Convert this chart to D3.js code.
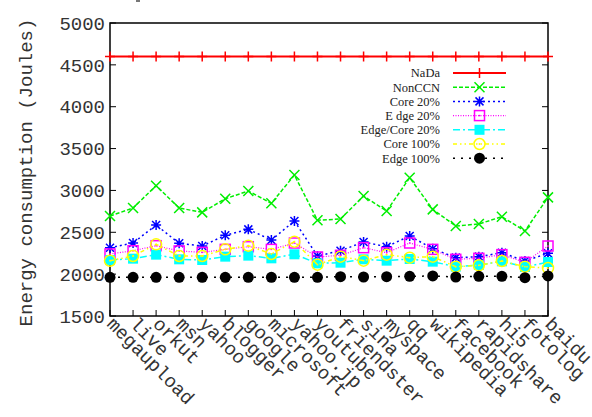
<!DOCTYPE html>
<html>
<head>
<meta charset="utf-8">
<script src="https://cdn.jsdelivr.net/npm/d3@7"></script>
<style>
  body { margin: 0; background: #fff; }
  svg { display: block; }
</style>
</head>
<body>
<svg width="592" height="417"></svg>
<script>
var sites = ["megaupload", "live", "orkut", "msn", "yahoo", "blogger", "google", "microsoft",
    "yahoo.jp", "youtube", "friendster", "sina", "myspace", "qq", "wikipedia", "facebook",
    "rapidshare", "hi5", "fotolog", "baidu"];

var yTicks = [1500, 2000, 2500, 3000, 3500, 4000, 4500, 5000];

var nada      = [4600, 4600, 4600, 4600, 4600, 4600, 4600, 4600, 4600, 4600,
                 4600, 4600, 4600, 4600, 4600, 4600, 4600, 4600, 4600, 4600];
var nonccn    = [2694, 2790, 3057, 2790, 2738, 2901, 2993, 2846, 3184, 2643,
                 2659, 2933, 2754, 3152, 2774, 2575, 2599, 2686, 2515, 2917];
var core20    = [2316, 2372, 2587, 2368, 2336, 2464, 2535, 2408, 2635, 2217,
                 2280, 2384, 2328, 2456, 2304, 2197, 2209, 2256, 2157, 2249];
var edge20    = [2241, 2280, 2340, 2277, 2260, 2296, 2328, 2296, 2372, 2205,
                 2225, 2316, 2256, 2372, 2296, 2177, 2189, 2233, 2141, 2336];
var edgecore20= [2169, 2185, 2233, 2177, 2169, 2209, 2221, 2189, 2237, 2129,
                 2137, 2177, 2161, 2181, 2149, 2089, 2109, 2153, 2085, 2145];
var core100   = [2160, 2217, 2356, 2217, 2217, 2296, 2340, 2241, 2388, 2113,
                 2209, 2161, 2233, 2197, 2209, 2089, 2105, 2157, 2089, 2073];
var edge100   = [1962, 1962, 1962, 1962, 1962, 1962, 1962, 1962, 1962, 1962,
                 1970, 1966, 1970, 1974, 1978, 1966, 1974, 1974, 1958, 1978];

// plot box (window.top is taken, so no "top" here)
var pLeft = 110, pRight = 548, pTop = 23, pBottom = 316;

var svg = d3.select("svg");

var x = d3.scalePoint().domain(sites).range([pLeft, pRight]);
var y = d3.scaleLinear().domain([1500, 5000]).range([pBottom, pTop]);

// marker shapes, drawn at 0,0
function markPlus(g, c) {
    g.append("path").attr("d", "M-5,0H5M0,-5V5").attr("stroke", c).attr("stroke-width", 1.5).attr("fill", "none");
}
function markCross(g, c) {
    g.append("path").attr("d", "M-5,-5L5,5M-5,5L5,-5").attr("stroke", c).attr("stroke-width", 1.5).attr("fill", "none");
}
function markStar(g, c) {
    g.append("path").attr("d", "M-5,0H5M0,-5V5M-4,-4L4,4M-4,4L4,-4").attr("stroke", c).attr("stroke-width", 1.5).attr("fill", "none");
}
function markBox(g, c) {
    g.append("rect").attr("x", -5).attr("y", -5).attr("width", 10).attr("height", 10)
        .attr("stroke", c).attr("stroke-width", 1.5).attr("fill", "none");
    g.append("rect").attr("x", -0.75).attr("y", -0.75).attr("width", 1.5).attr("height", 1.5).attr("fill", c);
}
function markFillBox(g, c) {
    g.append("rect").attr("x", -5).attr("y", -5).attr("width", 10).attr("height", 10).attr("fill", c);
}
function markCircle(g, c) {
    g.append("circle").attr("r", 5.5).attr("stroke", c).attr("stroke-width", 1.5).attr("fill", "none");
    g.append("circle").attr("r", 0.9).attr("fill", c);
}
function markDot(g, c) {
    g.append("circle").attr("r", 5.5).attr("fill", c);
}

var series = [
    {name: "NaDa", values: nada, color: "#ff0000", dash: null, width: 2, mark: markPlus},
    {name: "NonCCN", values: nonccn, color: "#00ee00", dash: "4,2", width: 1.5, mark: markCross},
    {name: "Core 20%", values: core20, color: "#0000ff", dash: "2,3", width: 1.5, mark: markStar},
    {name: "E dge 20%", values: edge20, color: "#ff00ff", dash: "1,1.5", width: 1.2, mark: markBox},
    {name: "Edge/Core 20%", values: edgecore20, color: "#00ffff", dash: "7,3,2,3", width: 1.5, mark: markFillBox},
    {name: "Core 100%", values: core100, color: "#ffff00", dash: "4,3,1.5,3,1.5,3", width: 1.5, mark: markCircle},
    {name: "Edge 100%", values: edge100, color: "#000000", dash: "2,6", width: 1.5, mark: markDot}
];

// frame
svg.append("rect")
    .attr("x", pLeft).attr("y", pTop)
    .attr("width", pRight - pLeft).attr("height", pBottom - pTop)
    .attr("fill", "none").attr("stroke", "#000").attr("stroke-width", 1.5);

// y ticks, both sides
yTicks.forEach(function(t) {
    svg.append("line").attr("x1", pLeft).attr("x2", pLeft + 6).attr("y1", y(t)).attr("y2", y(t))
        .attr("stroke", "#000").attr("stroke-width", 1);
    svg.append("line").attr("x1", pRight).attr("x2", pRight - 6).attr("y1", y(t)).attr("y2", y(t))
        .attr("stroke", "#000").attr("stroke-width", 1);
    svg.append("text")
        .attr("x", 105).attr("y", y(t))
        .attr("dy", "0.35em")
        .attr("text-anchor", "end")
        .attr("font-family", "Liberation Mono")
        .attr("font-size", 19)
        .attr("fill", "#333")
        .text(t);
});

// x ticks and rotated labels
sites.forEach(function(s) {
    svg.append("line").attr("x1", x(s)).attr("x2", x(s)).attr("y1", pBottom).attr("y2", pBottom - 6)
        .attr("stroke", "#000").attr("stroke-width", 1);
    svg.append("text")
        .attr("transform", "translate(" + (x(s) - 4) + "," + (pBottom + 9) + ") rotate(45)")
        .attr("text-anchor", "start")
        .attr("font-family", "Liberation Mono")
        .attr("font-size", 19)
        .attr("fill", "#333")
        .text(s);
});

// y axis title
svg.append("text")
    .attr("transform", "translate(32," + ((pTop + pBottom) / 2 + 3) + ") rotate(-90)")
    .attr("text-anchor", "middle")
    .attr("font-family", "Liberation Mono")
    .attr("font-size", 19)
    .attr("fill", "#333")
    .text("Energy consumption (Joules)");

var line = d3.line()
    .x(function(d, i) { return x(sites[i]); })
    .y(function(d) { return y(d); });

series.forEach(function(s) {
    svg.append("path")
        .datum(s.values)
        .attr("d", line)
        .attr("fill", "none")
        .attr("stroke", s.color)
        .attr("stroke-width", s.width)
        .attr("stroke-dasharray", s.dash);
    s.values.forEach(function(v, i) {
        var g = svg.append("g").attr("transform", "translate(" + x(sites[i]) + "," + y(v) + ")");
        s.mark(g, s.color);
    });
});

// legend
var legend = svg.append("g");
series.forEach(function(s, i) {
    var ly = 73 + i * 14.2;
    legend.append("text")
        .attr("x", 440).attr("y", ly)
        .attr("dy", "0.35em")
        .attr("text-anchor", "end")
        .attr("font-family", "Liberation Serif")
        .attr("font-size", 12.5)
        .attr("fill", "#222")
        .text(s.name);
    legend.append("line")
        .attr("x1", 453).attr("x2", 506).attr("y1", ly).attr("y2", ly)
        .attr("stroke", s.color)
        .attr("stroke-width", s.width)
        .attr("stroke-dasharray", s.dash);
    var g = legend.append("g").attr("transform", "translate(479.5," + ly + ")");
    s.mark(g, s.color);
});

// stray mark at the top edge (cut off title)
svg.append("rect").attr("x", 136).attr("y", 0).attr("width", 4).attr("height", 2).attr("fill", "#777");
</script>
</body>
</html>
